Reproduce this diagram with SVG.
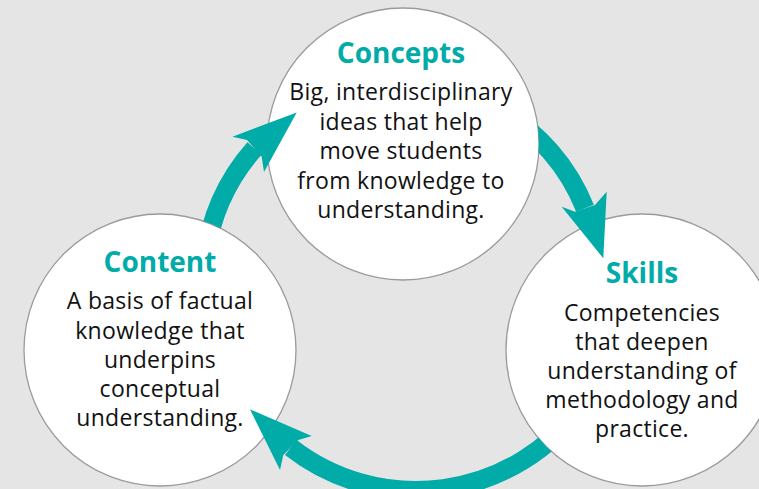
<svg xmlns="http://www.w3.org/2000/svg" width="759" height="489" viewBox="0 0 759 489">
  <style>
    .bubble { fill: #ffffff; stroke: #9b9b9b; stroke-width: 1.3; }
    .title { font-family: "Open Sans", "Noto Sans", sans-serif; font-weight: 700; font-size: 28px; fill: #00aba8; text-anchor: middle; }
    .body { font-family: "Open Sans", "Noto Sans", sans-serif; font-size: 23px; letter-spacing: 0.3px; fill: #111111; text-anchor: middle; }
    .band { fill: none; stroke: #00aba8; stroke-width: 19; stroke-linecap: butt; }
    .head { fill: #00aba8; }
  </style>
  <defs>
    <mask id="m-content" maskUnits="userSpaceOnUse" x="0" y="0" width="759" height="489">
      <rect x="0" y="0" width="759" height="489" fill="#fff"/>
      <circle cx="160" cy="350" r="136" fill="#000"/>
    </mask>
    <mask id="m-concepts" maskUnits="userSpaceOnUse" x="0" y="0" width="759" height="489">
      <rect x="0" y="0" width="759" height="489" fill="#fff"/>
      <circle cx="403" cy="144" r="136" fill="#000"/>
    </mask>
    <mask id="m-skills" maskUnits="userSpaceOnUse" x="0" y="0" width="759" height="489">
      <rect x="0" y="0" width="759" height="489" fill="#fff"/>
      <circle cx="642" cy="350" r="136" fill="#000"/>
    </mask>
  </defs>

  <rect x="0" y="0" width="759" height="489" fill="#e5e5e5"/>

  <g id="concepts">
    <circle class="bubble" cx="403" cy="144" r="136"/>
    <text class="title" x="401" y="63">Concepts</text>
    <text class="body" x="401" y="100">Big, interdisciplinary</text>
    <text class="body" x="401" y="129.5">ideas that help</text>
    <text class="body" x="401" y="159">move students</text>
    <text class="body" x="401" y="188.5">from knowledge to</text>
    <text class="body" x="401" y="218">understanding.</text>
  </g>

  <g id="content">
    <circle class="bubble" cx="160" cy="350" r="136"/>
    <text class="title" x="160" y="272">Content</text>
    <text class="body" x="160" y="309">A basis of factual</text>
    <text class="body" x="160" y="338.5">knowledge that</text>
    <text class="body" x="160" y="368">underpins</text>
    <text class="body" x="160" y="397">conceptual</text>
    <text class="body" x="160" y="426">understanding.</text>
  </g>

  <g id="skills">
    <circle class="bubble" cx="642" cy="350" r="136"/>
    <text class="title" x="642" y="283">Skills</text>
    <text class="body" x="642" y="321">Competencies</text>
    <text class="body" x="642" y="350">that deepen</text>
    <text class="body" x="642" y="379">understanding of</text>
    <text class="body" x="642" y="408">methodology and</text>
    <text class="body" x="642" y="437">practice.</text>
  </g>

  <g id="connectors">
    <g id="content-to-concepts">
      <path class="band" mask="url(#m-content)" d="M 205 262 A 197 197 0 0 1 254.5 148.5"/>
      <polygon class="head" points="247,140 232.5,136.7 296.7,112.5 264,172 261.7,156.7"/>
    </g>
    <g id="concepts-to-skills">
      <path class="band" mask="url(#m-concepts)" d="M 500 110 A 197 197 0 0 1 585 208.3"/>
      <polygon class="head" points="575,211.7 561.7,206.7 603.3,258.3 606.7,191.7 595,205"/>
    </g>
    <g id="skills-to-content">
      <path class="band" mask="url(#m-skills)" d="M 580 408 A 204 204 0 0 1 290.8 447.5"/>
      <polygon class="head" points="298.3,440 311.7,436 250,409.3 280,470 283.3,455"/>
    </g>
  </g>
</svg>
